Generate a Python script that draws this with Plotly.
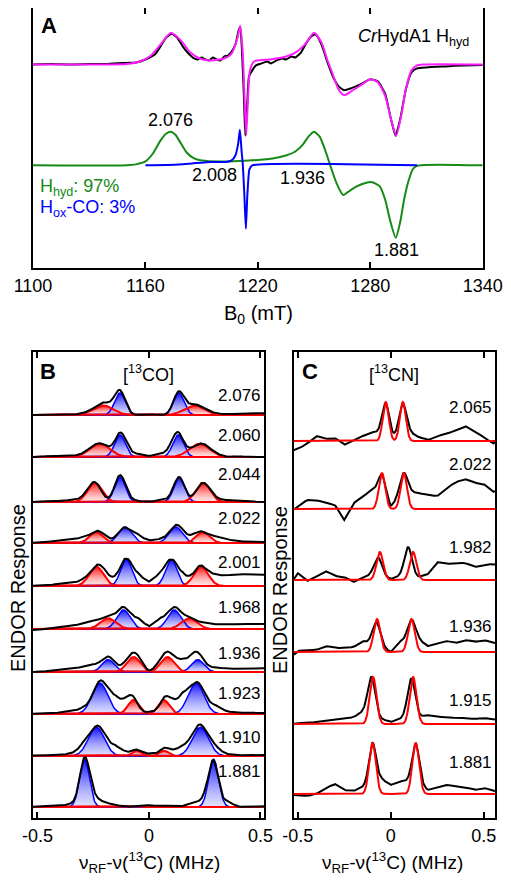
import numpy as np
import plotly.graph_objects as go

FONT = "Liberation Sans, Arial, sans-serif"
GREEN = "#158a15"
MAGENTA = "#ff1aff"

# ---------------- Panel A : EPR spectra (field in mT, amplitude in a.u.) ----------------
epr_exp_field = [1100, 1110, 1120, 1130, 1140, 1150, 1155, 1160, 1165, 1168, 1171, 1174, 1177, 1180, 1183,
                 1186, 1188, 1190, 1192, 1194, 1196, 1198, 1200, 1202, 1204, 1206, 1208, 1209.8, 1210.6,
                 1211.5, 1212.5, 1213.3, 1214.2, 1215.3, 1217, 1219, 1222, 1225, 1227, 1230, 1233, 1235,
                 1238, 1240, 1243, 1246, 1249, 1251, 1254, 1257, 1260, 1263, 1266, 1270, 1275, 1280, 1284,
                 1288, 1291, 1293.5, 1296, 1299, 1302, 1305, 1310, 1320, 1330, 1340]
epr_exp = [0, 0.5, 0, 0.5, 0.5, 1.5, 2, 5, 10, 18, 27, 31, 27, 18, 11,
           6, 5, 7, 5, 4, 7, 5, 4, 8, 9, 13, 20, 35, 38,
           15, -30, -72, -45, -12, -6, -1, 1, 3, 1, 4, 6, 5,
           8, 7, 12, 22, 29, 30, 20, 3, -12, -22, -26, -24, -20, -15, -17,
           -30, -55, -72, -55, -25, -8, -4, -3, -2, -1, -0.5]

epr_sim_field = [1100, 1140, 1150, 1157, 1163, 1168, 1173.6, 1179, 1184, 1189, 1195, 1202, 1206, 1209,
                 1210.6, 1212, 1213, 1213.8, 1214.6, 1215.8, 1218, 1226, 1233, 1240, 1245, 1250, 1254,
                 1257, 1260, 1263, 1266, 1270, 1275, 1280, 1284, 1288, 1291, 1293.8, 1296.5, 1299, 1302,
                 1305, 1308, 1340]
epr_sim = [0, 0, 0.5, 3, 9, 20, 32, 24, 12, 6, 4, 6, 11, 26,
           39, 10, -40, -71, -40, -6, 3, 5, 7, 12, 20, 32, 22,
           5, -10, -25, -31, -27, -21, -15, -18, -32, -55, -72, -52, -25, -6,
           -1, 0, 0]

hyd_field = [1100, 1150, 1155, 1160, 1164, 1168, 1171, 1173.6, 1176, 1179, 1182, 1186, 1190, 1200, 1210,
             1220, 1228, 1235, 1240, 1244, 1247, 1250, 1253, 1256, 1259, 1262, 1265.5, 1268, 1272, 1277,
             1281, 1285, 1288, 1290.5, 1293.6, 1296, 1298, 1300.5, 1303, 1306, 1340]
hyd_sim = [0, 0, 1, 4, 12, 25, 32, 34, 31, 22, 13, 7, 5, 4, 4.5,
           5.5, 7, 10, 14, 21, 29, 34, 29, 15, -2, -18, -30, -27, -22, -18,
           -17, -21, -35, -55, -73, -57, -35, -15, -3, 0, 0]

hoxco_field = [1160, 1175, 1185, 1195, 1203, 1206, 1208, 1209.5, 1210.4, 1211.3, 1212, 1212.8, 1213.6,
               1214.4, 1215.5, 1217, 1305]
hoxco_sim = [0, 0.5, 2, 3.5, 3.5, 5, 10, 22, 36, 15, 0, -30, -64, -30, -4, 0, 0]

epr_g_labels = ["2.076", "2.008", "1.936", "1.881"]
epr_g_field = [1173.6, 1197, 1244, 1294]
epr_g_amp = [46, -10, -13, -85]

# ---------------- Panel B : 13CO ENDOR ----------------
co_g = ["2.076", "2.060", "2.044", "2.022", "2.001", "1.968", "1.936", "1.923", "1.910", "1.881"]
co_blue_pos = [[-0.13, 0.133], [-0.13, 0.131], [-0.13, 0.136], [-0.107, 0.12], [-0.102, 0.10],
               [-0.114, 0.113], [-0.183, 0.219], [-0.22, 0.211], [-0.236, 0.231], [-0.289, 0.29]]
co_blue_amp = [22, 22, 25, 16, 26.7, 19, 12.3, 31, 28.7, 47.7]
co_blue_sig = [0.024, 0.024, 0.024, 0.03, 0.025, 0.03, 0.028, 0.035, 0.036, 0.022]
co_red_pos = [[-0.205, 0.204], [-0.22, 0.227], [-0.243, 0.242], [-0.236, 0.242], [-0.236, 0.234],
              [-0.183, 0.181], [-0.069, 0.083], [-0.069, 0.067], [-0.054, 0.067], [-0.05, 0.05]]
co_red_amp = [9.5, 13.3, 19.3, 11, 19.3, 10.7, 15, 14, 5.3, 0.8]
co_red_sig = [0.045, 0.045, 0.032, 0.03, 0.032, 0.035, 0.03, 0.025, 0.02, 0.02]
co_resid_nu = [-0.55, -0.5, -0.45, -0.4, -0.35, -0.3, -0.25, -0.2, -0.15, -0.1, -0.05, 0.0,
               0.05, 0.1, 0.15, 0.2, 0.25, 0.3, 0.35, 0.4, 0.45, 0.5, 0.55]
co_resid = [
    [0, 0, 0, 0, 0, 1, 1, 3, 1, 0, 0, 1, 0, -1, -1, 1, 1, 1, 1, 1, 1, 2, 1],
    [0, 0, 1, 1, 1, 1, 1, 0, -2, 5, 3, 1, 3, 6, -1, -1, 1, 1, 0, 1, 0, 0, 0],
    [0, 0, 1, 1, 2, 2, 1, -2, 1, 3, 1, 0, 2, 2, -1, -1, 0, 2, 2, 2, 1, 0, 0],
    [0, 0.3, 1.3, 2.3, 3.3, 5, 0.4, 3, 1, -0.6, 6.7, 2.7, 3.3, 0.5, 4.3, 4.8, -0.5, 5, 3.7, 1.7, 1.3, 1, 1],
    [0, 0.3, 1, 2, 3.3, 4.2, -0.4, 7, 6.2, 0.3, 11, 4.3, 11.4, -1, 10.5, 2, 1, 10, 10.7, 12, 11.7, 11.3, 11],
    [-1, -1, 0.7, 2, 3, 5.3, 7, 1.6, -0.4, 2.3, 9.8, 2.7, 9.3, 2, -0.4, 0.3, 5, 4.7, 4.3, 5, 5, 5, 5],
    [0, 0, 1, 2, 3, 5, 7.3, 3.8, 2.2, 4.2, 4.7, 0, 5, 5.6, 11.5, 10, 3.4, 4.5, 3.3, 3.3, 3.3, 4, 3],
    [0, 0.3, 0.3, 1.5, 3, 4.4, -1, 4.6, 15, 11.5, -1.5, 1.6, -1.5, 10.6, 15, 0, 4.3, 8, 2.7, 1, 1.7, 1, 1],
    [0, 0.7, 0.7, 1, 2.5, 6.8, 0, 5.3, 9.3, 4, 0.7, 2.5, 1.6, 5.3, 8.7, 4.6, 1.7, 6.5, 2, 0.7, 0.7, 1, 1],
    [0, 0.5, 0.7, 1, 3, 0, 10, 5, 1.7, 0.3, 0.7, 1.7, 0.3, 0.7, 1, 4, 7.5, -3, 5.6, 0.3, 0, 0.7, 0.7],
]

# ---------------- Panel C : 13CN ENDOR ----------------
cn_g = ["2.065", "2.022", "1.982", "1.936", "1.915", "1.881"]
cn_fit_pos = [[-0.027, 0.065], [-0.047, 0.07], [-0.059, 0.12], [-0.074, 0.111], [-0.095, 0.12], [-0.098, 0.134]]
cn_fit_amp = [39, 36, 28, 33, 47, 51]
cn_fit_sig = [0.016, 0.017, 0.018, 0.018, 0.018, 0.018]
cn_exp_pos = [[-0.027, 0.065], [-0.047, 0.07], [-0.068, 0.093], [-0.077, 0.111], [-0.104, 0.111], [-0.098, 0.134]]
cn_exp_amp = [[32, 29], [21, 21], [17, 28], [23, 22], [37, 36], [39, 39]]
cn_exp_sig = [0.019, 0.02, 0.02, 0.021, 0.02, 0.019]
cn_bg_nu = [-0.55, -0.5, -0.45, -0.4, -0.35, -0.3, -0.25, -0.2, -0.15, -0.1, -0.05, 0.0,
            0.05, 0.1, 0.15, 0.2, 0.25, 0.3, 0.35, 0.4, 0.45, 0.5, 0.55, 0.575]
cn_bg = [
    [-11, -8, -3, 5, 2, 3, -4, 1, 5, 9, 8, 3, 8, 9, 4, 1, 5, 7, 11, 15, 9, 4, -3, 3],
    [-4, 2, 9, 9, 6, 4, -11, 6, 12, 20, 14, 2, 14, 17, 16, 14, 13, 21, 27, 30, 26, 25, 17, 19],
    [-8, 7, -1, 3, 9, 4, 3, -2, 2, 6, 5, 1, 4, 5, 3, 6, 18, 16, 17, 17, 13, 15, 16, 15],
    [-8, 1, 2, 2, 6, 4, 4, 5, 11, 8, 5, 0, 11, 10, 12, 6, 8, 11, 9, 12, 10, 12, 9, 9],
    [-1, 1, 1, 2, 3, 4, 5, 7, 12, 10, 5, 2, 5, 10, 7, 9, 7, 7, 6, 6, 5, 6, 5, 4],
    [-1, -1, -2, 0, 6, 10, 4, 3, 7, 12, 15, 9, 13, 13, 10, 4, 7, 9, 8, 7, 4, 6, 4, 1],
]

# ---------------- layout constants (stack offsets / label positions) ----------------
A_UPPER_OFFSET = 102
co_base = [403, 361, 316, 275, 232, 189, 146, 104, 62, 11]
co_label_y = [423, 383, 344, 300, 256, 211, 165, 125, 81, 47]
cn_base = [377, 309, 238, 166, 94, 24]
cn_label_y = [411, 354, 271, 192, 118, 56]
B_RANGE = [-0.52, 0.516]
C_RANGE = [-0.52, 0.56]


def gauss(x, mu, s):
    return np.exp(-0.5 * ((x - mu) / s) ** 2)


fig = go.Figure()

# ---- Panel A ----
fig.add_trace(go.Scatter(x=hyd_field, y=hyd_sim, mode="lines", line=dict(color=GREEN, width=2, shape="spline", smoothing=0.6),
                         xaxis="x", yaxis="y", showlegend=False))
fig.add_trace(go.Scatter(x=hoxco_field, y=hoxco_sim, mode="lines", line=dict(color="#0000ff", width=2, shape="spline", smoothing=0.5),
                         xaxis="x", yaxis="y", showlegend=False))
fig.add_trace(go.Scatter(x=epr_exp_field, y=np.array(epr_exp) + A_UPPER_OFFSET, mode="lines",
                         line=dict(color="black", width=2, shape="spline", smoothing=0.5),
                         xaxis="x", yaxis="y", showlegend=False))
fig.add_trace(go.Scatter(x=epr_sim_field, y=np.array(epr_sim) + A_UPPER_OFFSET, mode="lines",
                         line=dict(color=MAGENTA, width=2, shape="spline", smoothing=0.6),
                         xaxis="x", yaxis="y", showlegend=False))

# ---- Panel B ----
nu_b = np.linspace(B_RANGE[0], B_RANGE[1], 521)
blue_cs = [[0, "rgba(170,170,255,0.35)"], [1, "rgba(0,0,255,0.95)"]]
red_cs = [[0, "rgba(255,190,190,0.35)"], [1, "rgba(255,0,0,0.95)"]]
for i in range(len(co_g)):
    base = co_base[i]
    reds = [co_red_amp[i] * gauss(nu_b, p, co_red_sig[i]) for p in co_red_pos[i]]
    blues = [co_blue_amp[i] * gauss(nu_b, p, co_blue_sig[i]) for p in co_blue_pos[i]]
    for comp in reds:
        if comp.max() > 2:
            fig.add_trace(go.Scatter(x=np.concatenate([nu_b, nu_b[::-1]]),
                                     y=np.concatenate([base + comp, np.full_like(nu_b, base)]),
                                     mode="lines", line=dict(width=0), fill="toself",
                                     fillgradient=dict(type="vertical", colorscale=red_cs),
                                     xaxis="x2", yaxis="y2", showlegend=False, hoverinfo="skip"))
    for comp in blues:
        fig.add_trace(go.Scatter(x=np.concatenate([nu_b, nu_b[::-1]]),
                                 y=np.concatenate([base + comp, np.full_like(nu_b, base)]),
                                 mode="lines", line=dict(width=1.5, color="#0000ff"), fill="toself",
                                 fillgradient=dict(type="vertical", colorscale=blue_cs),
                                 xaxis="x2", yaxis="y2", showlegend=False, hoverinfo="skip"))
    for comp in reds:
        fig.add_trace(go.Scatter(x=nu_b, y=base + comp, mode="lines", line=dict(width=2, color="#ff0000"),
                                 xaxis="x2", yaxis="y2", showlegend=False, hoverinfo="skip"))
    total = sum(reds) + sum(blues)
    exp_trace = base + total + np.interp(nu_b, co_resid_nu, co_resid[i])
    fig.add_trace(go.Scatter(x=nu_b, y=exp_trace, mode="lines", line=dict(width=2, color="black"),
                             xaxis="x2", yaxis="y2", showlegend=False, hoverinfo="skip"))

# ---- Panel C ----
nu_c = np.linspace(C_RANGE[0], C_RANGE[1], 561)
for i in range(len(cn_g)):
    base = cn_base[i]
    exp_trace = base + np.interp(nu_c, cn_bg_nu, cn_bg[i])
    for p, a in zip(cn_exp_pos[i], cn_exp_amp[i]):
        exp_trace = exp_trace + a * gauss(nu_c, p, cn_exp_sig[i])
    fig.add_trace(go.Scatter(x=nu_c, y=exp_trace, mode="lines", line=dict(width=2, color="black"),
                             xaxis="x3", yaxis="y3", showlegend=False, hoverinfo="skip"))
    fit = base + sum(cn_fit_amp[i] * gauss(nu_c, p, cn_fit_sig[i]) for p in cn_fit_pos[i])
    fig.add_trace(go.Scatter(x=nu_c, y=fit, mode="lines", line=dict(width=2, color="#ff0000"),
                             xaxis="x3", yaxis="y3", showlegend=False, hoverinfo="skip"))

# the page body has an 8 px default margin; size the figure so it fits the 511x884 window
OFF = 8
W, H = 511 - 2 * OFF, 884 - 2 * OFF


def px(xp):
    return (xp - OFF) / W


def py(yp):
    return 1 - (yp - OFF) / H


ax_common = dict(showline=True, mirror="allticks", linecolor="black", linewidth=2, showgrid=False,
                 zeroline=False, ticks="inside", ticklen=6, tickwidth=1.5, tickcolor="black", automargin=False,
                 tickfont=dict(family=FONT, size=18, color="black"))
ay_common = dict(showline=True, mirror=True, linecolor="black", linewidth=2, showgrid=False, automargin=False,
                 zeroline=False, showticklabels=False, ticks="")

fig.update_layout(
    template="none",
    width=W, height=H, autosize=False, margin=dict(l=0, r=0, t=0, b=0, pad=0),
    paper_bgcolor="white", plot_bgcolor="white",
    font=dict(family=FONT, color="black", size=18),
    xaxis=dict(domain=[px(33), px(482.7)], range=[1100, 1340], tickvals=[1100, 1160, 1220, 1280, 1340],
               anchor="y", **ax_common),
    yaxis=dict(domain=[py(268.3), py(5) if py(5) <= 1 else 1], range=[-104, 159], anchor="x", **ay_common),
    xaxis2=dict(domain=[px(33), px(264)], range=B_RANGE, tickvals=[-0.5, 0, 0.5],
                ticktext=["-0.5", "0", "0.5"], anchor="y2", **ax_common),
    yaxis2=dict(domain=[py(818), py(352)], range=[0, 466], anchor="x2", **ay_common),
    xaxis3=dict(domain=[px(294), px(495)], range=C_RANGE, tickvals=[-0.5, 0, 0.5],
                ticktext=["-0.5", "0", "0.5"], anchor="y3", **ax_common),
    yaxis3=dict(domain=[py(818), py(352)], range=[0, 466], anchor="x3", **ay_common),
)


def note(x, y, text, size, color="black", xref="paper", yref="paper", xanchor="center", angle=0):
    return dict(x=x, y=y, xref=xref, yref=yref, text=text, showarrow=False, xanchor=xanchor,
                yanchor="middle", textangle=angle, borderpad=0,
                font=dict(family=FONT, size=size, color=color))


ann = []
# panel A texts
for lab, f, a in zip(epr_g_labels, epr_g_field, epr_g_amp):
    ann.append(note(f, a, lab, 18, xref="x", yref="y"))
ann.append(note(px(49), py(25), "<b>A</b>", 22))
ann.append(note(px(470), py(37), "<i>Cr</i>HydA1 H<sub>hyd</sub>", 18, xanchor="right"))
ann.append(note(px(39), py(187), "H<sub>hyd</sub>: 97%", 18, color=GREEN, xanchor="left"))
ann.append(note(px(39), py(209), "H<sub>ox</sub>-CO: 3%", 18, color="#0000ff", xanchor="left"))
ann.append(note(px(258), py(314), "B<sub>0</sub> (mT)", 20))
# panel B texts
for lab, yl in zip(co_g, co_label_y):
    ann.append(note(0.508, yl, lab, 17, xref="x2", yref="y2", xanchor="right"))
ann.append(note(px(48), py(371), "<b>B</b>", 22))
ann.append(note(px(148), py(373), "[<sup>13</sup>CO]", 18))
ann.append(note(px(18), py(588), "ENDOR Response", 20, angle=-90))
ann.append(note(px(149), py(862), "ν<sub>RF</sub>-ν(<sup>13</sup>C) (MHz)", 19))
# panel C texts
for lab, yl in zip(cn_g, cn_label_y):
    ann.append(note(0.55, yl, lab, 17, xref="x3", yref="y3", xanchor="right"))
ann.append(note(px(310), py(371), "<b>C</b>", 22))
ann.append(note(px(394), py(373), "[<sup>13</sup>CN]", 18))
ann.append(note(px(280), py(590), "ENDOR Response", 20, angle=-90))
ann.append(note(px(392), py(862), "ν<sub>RF</sub>-ν(<sup>13</sup>C) (MHz)", 19))

fig.update_layout(annotations=ann)
fig.write_html("out.html")
